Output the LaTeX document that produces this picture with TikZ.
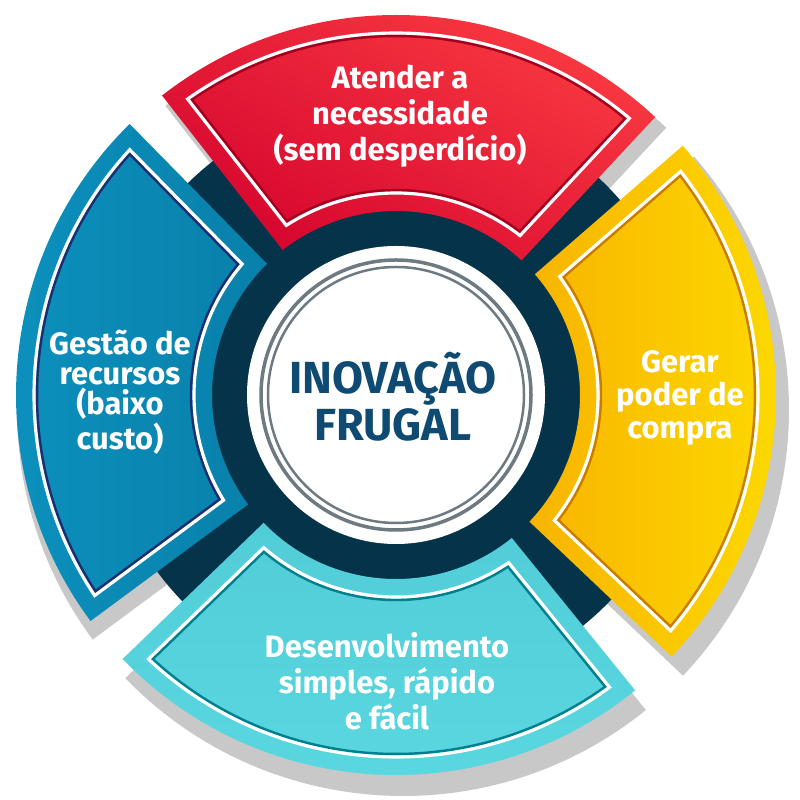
\documentclass[tikz,border=0pt]{standalone}
\usepackage{fontspec}
\setmainfont{Fira Sans}

\definecolor{navy}{HTML}{05344A}
\definecolor{shadowgray}{HTML}{C8C8C8}
\definecolor{ringgray}{HTML}{6E7A82}
\definecolor{titleblue}{HTML}{0E4A72}
\definecolor{redlight}{HTML}{FC3D42}
\definecolor{reddark}{HTML}{D6062F}
\definecolor{redline}{HTML}{A3001F}
\definecolor{yellowlight}{HTML}{FDDD00}
\definecolor{yellowdark}{HTML}{F8B400}
\definecolor{yellowline}{HTML}{C97D00}
\definecolor{cyanlight}{HTML}{52CDD8}
\definecolor{cyandark}{HTML}{5AD8E0}
\definecolor{cyanline}{HTML}{007F8F}
\definecolor{bluelight}{HTML}{0D92BF}
\definecolor{bluedark}{HTML}{0880AA}
\definecolor{blueline}{HTML}{1D2D6E}

% annular sector: start, end, inner r, outer r, inset
\newcommand{\sector}[5]{%
  ({#1+asin(#5/(#4-#5))}:{#4-#5})
  arc[start angle={#1+asin(#5/(#4-#5))}, end angle={#2-asin(#5/(#4-#5))}, radius={#4-#5}]
  -- ({#2-asin(#5/(#3+#5))}:{#3+#5})
  arc[start angle={#2-asin(#5/(#3+#5))}, end angle={#1+asin(#5/(#3+#5))}, radius={#3+#5}]
  -- cycle}

\tikzset{
  segtext/.style={text=white, align=center, font=\bfseries\fontsize{8.8}{10.2}\selectfont},
  titletext/.style={text=titleblue, align=center, font=\bfseries\fontsize{12.8}{11.6}\selectfont},
}

\begin{document}
\begin{tikzpicture}
    \useasboundingbox (-3.96,-4.05) rectangle (4.04,3.95);

    % Drop shadows
    \foreach \a/\b in {-43.5/41, 47/128, 134.5/216.5, 224/309} {
        \fill[shadowgray, shift={(0.07,-0.15)}] \sector{\a}{\b}{1.84}{3.86}{0};
    }

    % Navy ring
    \fill[navy] (0,0) circle (2.97);

    % Segments
    \foreach \a/\b/\ca/\cb/\sa/\dk in {
        -43.5/41/yellowlight/yellowdark/-90/yellowline,
        47/128/redlight/reddark/-30/redline,
        134.5/216.5/bluelight/bluedark/90/blueline,
        224/309/cyanlight/cyandark/0/cyanline} {
        \shade[top color=\ca, bottom color=\cb, shading angle=\sa] \sector{\a}{\b}{1.84}{3.80}{0};
        \draw[\dk, line width=0.7pt, line join=miter] \sector{\a}{\b}{1.84}{3.80}{0.21};
        \draw[white, line width=0.9pt, line join=miter] \sector{\a}{\b}{1.84}{3.80}{0.18};
    }

    % Centre disc
    \fill[white] (0,0) circle (1.49);
    \draw[ringgray, line width=0.035cm] (0,0) circle (1.35);
    \draw[ringgray, line width=0.025cm] (0,0) circle (1.28);
    \node[titletext] (title) at (-0.03,-0.02) {INOVAÇÃO\\FRUGAL};

    % Segment labels
    \node[segtext] (need) at (0.04,2.79) {Atender a\\necessidade\\(sem desperdício)};
    \node[segtext, font=\bfseries\fontsize{8.8}{9.4}\selectfont] (power) at (2.84,-0.03) {Gerar\\poder de\\compra};
    \node[segtext] (dev) at (-0.09,-2.86) {Desenvolvimento\\simples, rápido\\e fácil};
    \node[segtext, font=\bfseries\fontsize{8.8}{8.6}\selectfont] (mgmt) at (-2.76,0.03) {Gestão de\\recursos\\(baixo\\custo)};
\end{tikzpicture}
\end{document}
